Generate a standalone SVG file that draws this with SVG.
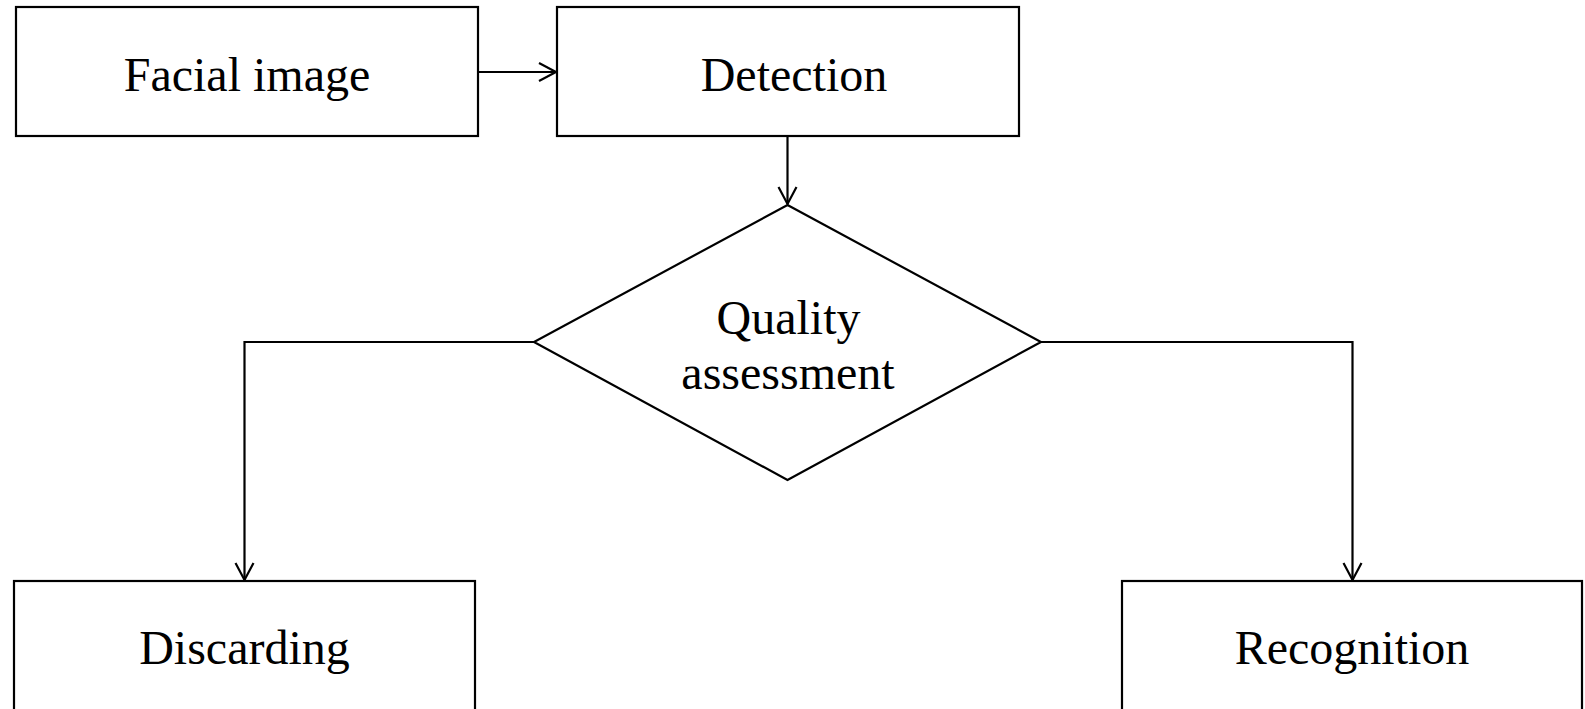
<svg xmlns="http://www.w3.org/2000/svg" width="1585" height="709" viewBox="0 0 1585 709">
  <style>
    .box { fill: #ffffff; stroke: #000000; stroke-width: 2.2; }
    .lbl { font-family: "Liberation Serif", "Times New Roman", serif; font-size: 48px; fill: #000000; text-anchor: middle; }
    .conn { fill: none; stroke: #000000; stroke-width: 2.2; }
  </style>
  <defs>
    <marker id="arrow" markerUnits="userSpaceOnUse" markerWidth="24" markerHeight="24" refX="18" refY="10" orient="auto">
      <path d="M1,1 L18,10 L1,19" fill="none" stroke="#000000" stroke-width="2.2"/>
    </marker>
  </defs>
  <rect width="1585" height="709" fill="#ffffff"/>

  <g id="connectors">
    <line class="conn" x1="478" y1="72" x2="556" y2="72" marker-end="url(#arrow)"/>
    <line class="conn" x1="787.5" y1="137" x2="787.5" y2="204" marker-end="url(#arrow)"/>
    <polyline class="conn" points="534,342 244.5,342 244.5,580" marker-end="url(#arrow)"/>
    <polyline class="conn" points="1041,342 1352.5,342 1352.5,580" marker-end="url(#arrow)"/>
  </g>

  <g id="node-facial-image">
    <rect class="box" x="16" y="7" width="462" height="129"/>
    <text class="lbl" x="247" y="91">Facial image</text>
  </g>
  <g id="node-detection">
    <rect class="box" x="557" y="7" width="462" height="129"/>
    <text class="lbl" x="794" y="91">Detection</text>
  </g>
  <g id="node-quality">
    <polygon class="box" points="787.5,205 1041,342 787.5,480 534,342"/>
    <text class="lbl" x="788.5" y="334">Quality</text>
    <text class="lbl" x="788" y="389">assessment</text>
  </g>
  <g id="node-discarding">
    <rect class="box" x="14" y="581" width="461" height="140"/>
    <text class="lbl" x="244.5" y="664">Discarding</text>
  </g>
  <g id="node-recognition">
    <rect class="box" x="1122" y="581" width="460" height="140"/>
    <text class="lbl" x="1352" y="664">Recognition</text>
  </g>
</svg>
